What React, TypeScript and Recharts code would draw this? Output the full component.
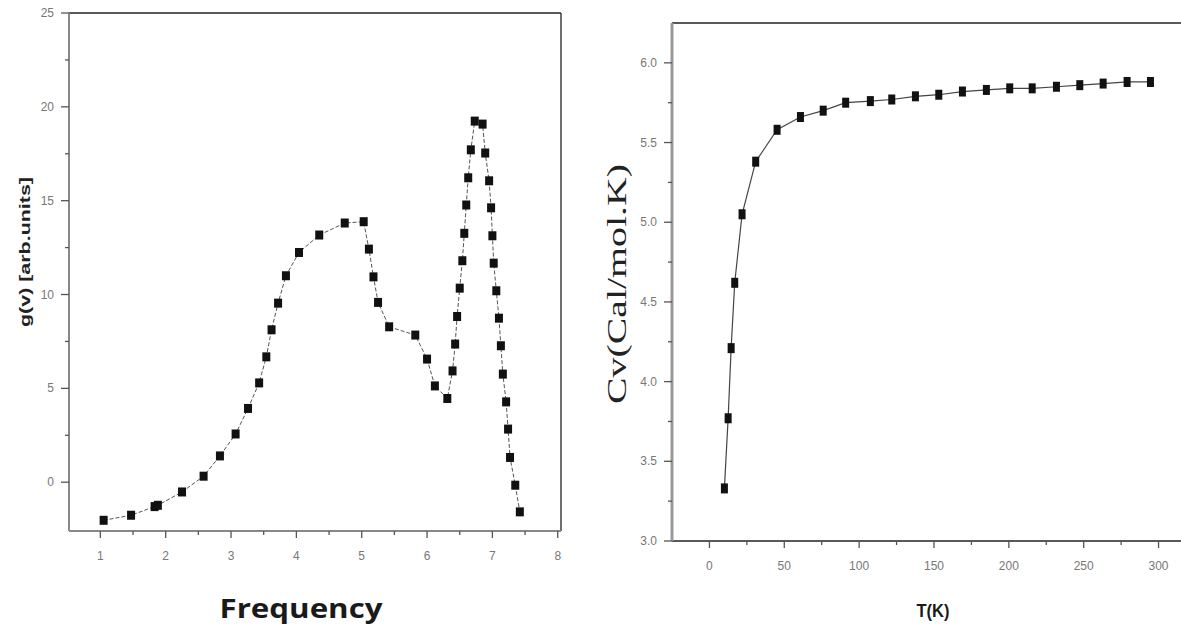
import { LineChart, Line, XAxis, YAxis, ReferenceLine, Label } from "recharts";

// left panel: phonon density of states
const freq = [
  1.05, 1.47, 1.83, 1.88, 2.25, 2.58, 2.83, 3.07, 3.26, 3.43, 3.54, 3.62, 3.72,
  3.84, 4.04, 4.35, 4.74, 5.03, 5.11, 5.18, 5.25, 5.42, 5.82, 6.0, 6.12, 6.31,
  6.39, 6.43, 6.46, 6.5, 6.54, 6.57, 6.6, 6.63, 6.67, 6.73, 6.85, 6.89, 6.95,
  6.98, 7.0, 7.02, 7.06, 7.1, 7.13, 7.16, 7.21, 7.24, 7.27, 7.35, 7.42,
];
const gv = [
  -2.03, -1.76, -1.3, -1.23, -0.52, 0.32, 1.4, 2.57, 3.93, 5.29, 6.68, 8.12,
  9.54, 11.0, 12.24, 13.17, 13.81, 13.88, 12.42, 10.94, 9.58, 8.28, 7.84, 6.56,
  5.13, 4.46, 5.93, 7.36, 8.83, 10.34, 11.8, 13.26, 14.77, 16.22, 17.71, 19.24,
  19.08, 17.54, 16.06, 14.62, 13.13, 11.67, 10.2, 8.74, 7.27, 5.76, 4.28, 2.83,
  1.32, -0.16, -1.58,
];
const freqTicks = [1, 1.5, 2, 2.5, 3, 3.5, 4, 4.5, 5, 5.5, 6, 6.5, 7, 7.5, 8];
const gTicks = [0, 2.5, 5, 7.5, 10, 12.5, 15, 17.5, 20, 22.5, 25];

// right panel: heat capacity
const temps = [
  10, 12.5, 14.5, 16.9, 21.8, 30.9, 45.2, 60.8, 76, 91, 107.5, 121.8, 137.6,
  153.2, 169, 185, 200.6, 215.6, 231.8, 247.4, 263, 279, 294.6,
];
const cv = [
  3.33, 3.77, 4.21, 4.62, 5.05, 5.38, 5.58, 5.66, 5.7, 5.75, 5.76, 5.77, 5.79,
  5.8, 5.82, 5.83, 5.84, 5.84, 5.85, 5.86, 5.87, 5.88, 5.88,
];
const tTicks = [0, 25, 50, 75, 100, 125, 150, 175, 200, 225, 250, 275, 300];
const cvTicks = [3.0, 3.25, 3.5, 3.75, 4.0, 4.25, 4.5, 4.75, 5.0, 5.25, 5.5, 5.75, 6.0];

const dosData = freq.map((x, i) => ({ x, y: gv[i] }));
const cvData = temps.map((x, i) => ({ x, y: cv[i] }));

const tickFont = "'Liberation Sans', Arial, sans-serif";

const makeXTick =
  (isMajor: (v: number) => boolean, fmt: (v: number) => string) =>
  (props: any) => {
    const { x, y, payload } = props;
    const v = payload.value as number;
    const major = isMajor(v);
    return (
      <g>
        <line x1={x} x2={x} y1={y} y2={y + (major ? 7 : 4)} stroke="#555" strokeWidth={1.3} />
        {major && (
          <text x={x} y={y + 25} textAnchor="middle" dominantBaseline="central" fontSize={12} fill="#777" fontFamily={tickFont}>
            {fmt(v)}
          </text>
        )}
      </g>
    );
  };

const makeYTick =
  (isMajor: (v: number) => boolean, fmt: (v: number) => string) =>
  (props: any) => {
    const { x, y, payload } = props;
    const v = payload.value as number;
    const major = isMajor(v);
    return (
      <g>
        <line x1={x} x2={x - (major ? 8 : 4)} y1={y} y2={y} stroke="#555" strokeWidth={1.3} />
        {major && (
          <text x={x - 15} y={y} textAnchor="end" dominantBaseline="central" fontSize={12} fill="#777" fontFamily={tickFont}>
            {fmt(v)}
          </text>
        )}
      </g>
    );
  };

const SquareDot = (w: number, h: number) => (props: any) => {
  const { cx, cy, index } = props;
  if (cx == null || cy == null) return <g key={index} />;
  return <rect key={index} x={cx - w / 2} y={cy - h / 2} width={w} height={h} fill="#111" />;
};

export default function App() {
  return (
    <div style={{ position: "absolute", left: 0, top: 0, width: 1181, height: 625, background: "#fff", overflow: "hidden" }}>
      <div style={{ position: "absolute", left: 0, top: 0 }}>
        <LineChart width={600} height={625} data={dosData} margin={{ top: 13, right: 39, left: 0, bottom: 0 }}>
          <XAxis
            dataKey="x"
            type="number"
            domain={[0.52, 8.05]}
            allowDataOverflow
            ticks={freqTicks}
            interval={0}
            height={94}
            tickSize={0}
            tickMargin={0}
            tickLine={false}
            axisLine={{ stroke: "#888", strokeWidth: 2 }}
            tick={makeXTick((v) => Number.isInteger(v), (v) => String(v))}
          >
            <Label
              content={() => (
                <text x={301} y={618} textAnchor="middle" fontSize={26} fontWeight="bold" fill="#1a1a1a" fontFamily="'Open Sans', sans-serif" textLength={163} lengthAdjust="spacingAndGlyphs">
                  Frequency
                </text>
              )}
            />
          </XAxis>
          <YAxis
            dataKey="y"
            type="number"
            domain={[-2.6, 25]}
            allowDataOverflow
            ticks={gTicks}
            interval={0}
            width={69}
            tickSize={0}
            tickMargin={0}
            tickLine={false}
            axisLine={{ stroke: "#888", strokeWidth: 2 }}
            tick={makeYTick((v) => v % 5 === 0, (v) => String(v))}
          >
            <Label
              content={() => (
                <text x={0} y={0} transform="translate(25,252) rotate(-90)" textAnchor="middle" dominantBaseline="central" fontSize={14} fontWeight="bold" fill="#222" fontFamily={tickFont} textLength={150} lengthAdjust="spacingAndGlyphs">
                  g(v) [arb.units]
                </text>
              )}
            />
          </YAxis>
          <ReferenceLine y={25} stroke="#222" strokeWidth={1.3} ifOverflow="visible" />
          <ReferenceLine x={8.05} stroke="#222" strokeWidth={1.3} ifOverflow="visible" />
          <Line
            type="linear"
            dataKey="y"
            stroke="#555"
            strokeWidth={1}
            strokeDasharray="4 2"
            dot={SquareDot(8, 9)}
            activeDot={false}
            isAnimationActive={false}
          />
        </LineChart>
      </div>
      <div style={{ position: "absolute", left: 600, top: 0 }}>
        <LineChart width={581} height={625} data={cvData} margin={{ top: 23, right: 0, left: 0, bottom: 0 }}>
          <XAxis
            dataKey="x"
            type="number"
            domain={[-25, 315]}
            allowDataOverflow
            ticks={tTicks}
            interval={0}
            height={84}
            tickSize={0}
            tickMargin={0}
            tickLine={false}
            axisLine={{ stroke: "#222", strokeWidth: 1.5 }}
            tick={makeXTick((v) => v % 50 === 0, (v) => String(v))}
          >
            <Label
              content={() => (
                <text x={333} y={617} textAnchor="middle" fontSize={18} fontWeight="bold" fill="#1a1a1a" fontFamily={tickFont} textLength={33} lengthAdjust="spacingAndGlyphs">
                  T(K)
                </text>
              )}
            />
          </XAxis>
          <YAxis
            dataKey="y"
            type="number"
            domain={[3, 6.25]}
            allowDataOverflow
            ticks={cvTicks}
            interval={0}
            width={72}
            tickSize={0}
            tickMargin={0}
            tickLine={false}
            axisLine={{ stroke: "#999", strokeWidth: 3 }}
            tick={makeYTick((v) => Math.abs(v * 2 - Math.round(v * 2)) < 1e-6, (v) => v.toFixed(1))}
          >
            <Label
              content={() => (
                <text x={0} y={0} transform="translate(16,284) rotate(-90)" textAnchor="middle" dominantBaseline="central" fontSize={28} fill="#222" fontFamily="'Liberation Serif', 'Times New Roman', serif" textLength={240} lengthAdjust="spacingAndGlyphs">
                  Cv(Cal/mol.K)
                </text>
              )}
            />
          </YAxis>
          <ReferenceLine y={6.25} stroke="#222" strokeWidth={1.5} ifOverflow="visible" />
          <Line
            type="linear"
            dataKey="y"
            stroke="#444"
            strokeWidth={1.2}
            dot={SquareDot(7, 10)}
            activeDot={false}
            isAnimationActive={false}
          />
        </LineChart>
      </div>
    </div>
  );
}
